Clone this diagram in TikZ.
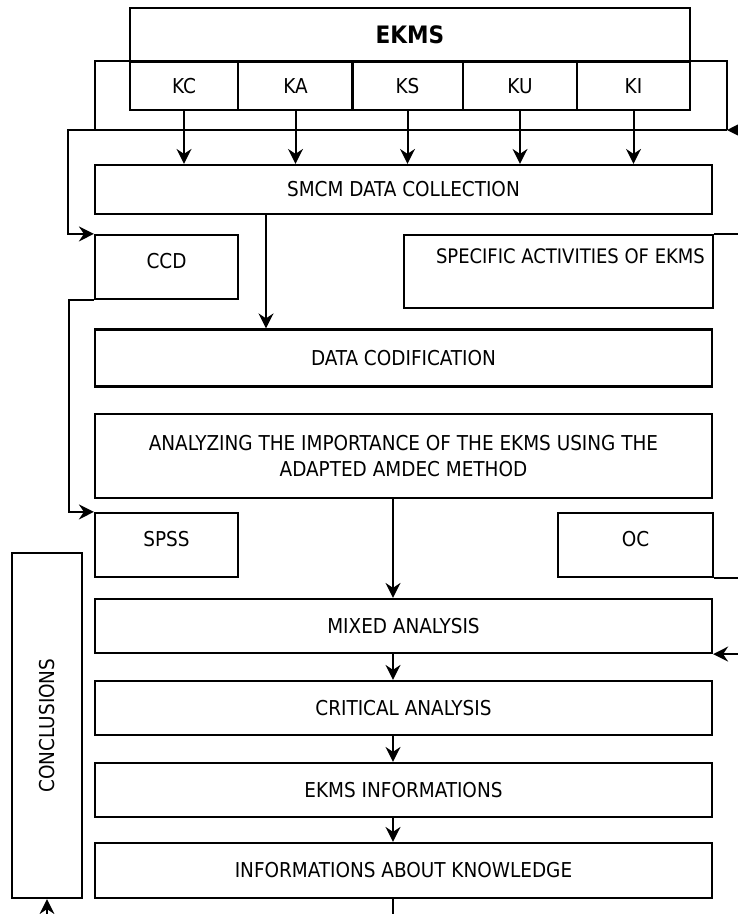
\documentclass[tikz,border=0pt]{standalone}
\usepackage{fontspec}
\setmainfont{DejaVu Sans Condensed}
\usepackage{graphicx}
\usetikzlibrary{arrows.meta}

\begin{document}
\begin{tikzpicture}[x=1pt,y=-1pt,line width=2pt,
  every node/.style={font=\fontsize{20.5}{26}\selectfont},
  stage/.style={draw,rectangle,inner sep=0pt,line width=2.2pt},
  sidebox/.style={stage,minimum height=64pt,text depth=13pt},
  flow/.style={-{Stealth[length=15pt,width=15pt,inset=5pt]}}]
  \useasboundingbox (0,0) rectangle (738,914);
  \node[stage,minimum width=560pt,minimum height=54pt,
    font=\bfseries\fontsize{24}{28}\selectfont] (ekms) at (410,35) {EKMS};
  \foreach \cellname/\cellx/\cellw in {KC/184/108,KA/295.5/115,KS/407.5/111,KU/520/114,KI/633.5/113}
    \node[stage,minimum width=\cellw pt,minimum height=48pt] (\cellname) at (\cellx,86) {\cellname};
  \node[stage,minimum width=617pt,minimum height=49pt] (smcm) at (403.5,189.5) {SMCM DATA COLLECTION};
  \node[sidebox,minimum width=143pt] (ccd) at (166.5,267) {CCD};
  \node[stage,minimum width=309pt,minimum height=73pt,
    label={[anchor=north,xshift=12pt,yshift=-14pt,inner sep=0pt,font=\fontsize{20}{24}\selectfont]north:SPECIFIC ACTIVITIES OF EKMS}]
    (specific) at (558.5,271.5) {};
  \node[stage,minimum width=617pt,minimum height=57pt] (codif) at (403.5,358) {DATA CODIFICATION};
  \node[stage,minimum width=617pt,minimum height=84pt,align=center] (analyzing) at (403.5,456)
    {ANALYZING THE IMPORTANCE OF THE EKMS USING THE\\ADAPTED AMDEC METHOD};
  \node[sidebox,minimum width=143pt] (spss) at (166.5,545) {SPSS};
  \node[sidebox,minimum width=155pt] (oc) at (635.5,545) {OC};
  \node[stage,minimum width=617pt,minimum height=54pt] (mixed) at (403.5,626) {MIXED ANALYSIS};
  \node[stage,minimum width=617pt,minimum height=54pt] (critical) at (403.5,708) {CRITICAL ANALYSIS};
  \node[stage,minimum width=617pt,minimum height=54pt] (info) at (403.5,790) {EKMS INFORMATIONS};
  \node[stage,minimum width=617pt,minimum height=55pt] (knowledge) at (403.5,870.5) {INFORMATIONS ABOUT KNOWLEDGE};
  \node[stage,minimum width=70pt,minimum height=345pt] (conclusions) at (47,725.5) {\rotatebox{90}{CONCLUSIONS}};
  \coordinate (loopL) at (95,130);
  \coordinate (loopR) at (727,130);
  \coordinate (feedL) at (68,130);
  \coordinate (backL) at (69,0);
  \coordinate (edgeR) at (738,0);
  \coordinate (edgeB) at (0,914);
  \coordinate (split) at (266,0);
  \coordinate (spine) at (393,0);
  \draw (loopL) |- (KI.north east) -| (loopR);
  \draw[flow] (loopR -| edgeR) -- (loopR);
  \draw[flow] (loopR) -- (feedL) |- (ccd.north west);
  \draw[flow] (ccd.south west) -| (backL |- spss.north) -- (spss.north west);
  \foreach \cellname in {KC,KA,KS,KU,KI}
    \draw[flow] (\cellname.south) -- (\cellname.south |- smcm.north);
  \draw[flow] (smcm.south -| split) -- (codif.north -| split);
  \draw (specific.north east) -- (specific.north east -| edgeR);
  \draw (oc.south east) -- (oc.south east -| edgeR);
  \draw[flow] (mixed.south east -| edgeR) -- (mixed.south east);
  \draw[flow] (analyzing.south -| spine) -- (mixed.north -| spine);
  \draw[flow] (mixed.south -| spine) -- (critical.north -| spine);
  \draw[flow] (critical.south -| spine) -- (info.north -| spine);
  \draw[flow] (info.south -| spine) -- (knowledge.north -| spine);
  \draw (knowledge.south -| spine) -- (spine |- edgeB);
  \draw[flow] (conclusions.south |- edgeB) -- (conclusions.south);
\end{tikzpicture}
\end{document}
